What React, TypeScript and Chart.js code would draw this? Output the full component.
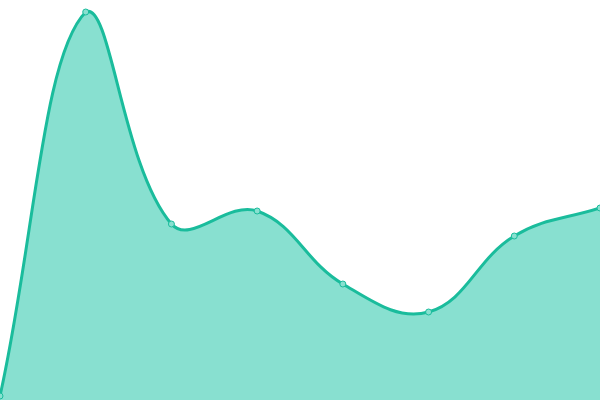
import React, { useEffect, useRef } from "react";
import { Chart, registerables } from "chart.js";

Chart.register(...registerables);

const categories = ["A", "B", "C", "D", "E", "F", "G", "H"];
const seriesValues = [4, 388, 176, 189, 116, 88, 164, 192];

export default function App() {
  const ref = useRef<HTMLCanvasElement | null>(null);

  useEffect(() => {
    document.body.style.margin = "0";
    if (!ref.current) return;
    const chart = new Chart(ref.current, {
      type: "line",
      data: {
        labels: categories,
        datasets: [
          {
            data: seriesValues,
            borderColor: "#1abc9c",
            backgroundColor: "#88e0d0",
            borderWidth: 3,
            fill: "origin",
            tension: 0.4,
            pointRadius: 3,
            pointBorderWidth: 1,
            pointBackgroundColor: "#88e0d0",
            pointBorderColor: "#1abc9c",
            clip: false as any,
          },
        ],
      },
      options: {
        animation: false,
        responsive: false,
        maintainAspectRatio: false,
        layout: { padding: 0, autoPadding: false } as any,
        plugins: { legend: { display: false }, tooltip: { enabled: false } },
        scales: {
          x: { display: false, offset: false },
          y: { display: false, min: 0, max: 400 },
        },
      },
    });
    return () => chart.destroy();
  }, []);

  return (
    <div style={{ width: 600, height: 400 }}>
      <canvas ref={ref} width={600} height={400} style={{ display: "block" }} />
    </div>
  );
}
